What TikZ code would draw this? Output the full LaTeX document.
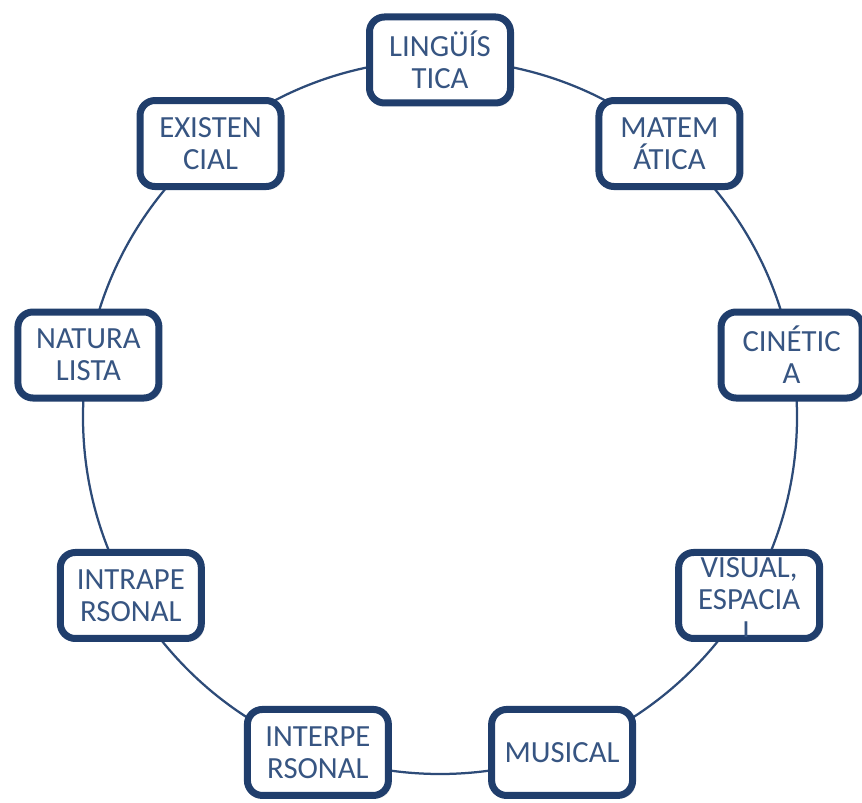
\documentclass[tikz,border=0pt]{standalone}
\usepackage{fontspec}
\setmainfont{Carlito}
\usetikzlibrary{shadows}
\definecolor{boxblue}{RGB}{32,62,108}
\definecolor{txtblue}{RGB}{55,85,130}
\definecolor{ringblue}{RGB}{45,75,120}

\begin{document}
\begin{tikzpicture}[
    intel/.style={draw=boxblue, line width=0.14cm, rounded corners=0.3cm, fill=white,
      minimum width=2.82cm, minimum height=1.72cm, inner sep=0pt,
      text=txtblue, align=center, font=\fontsize{17.5}{18.2}\selectfont,
      drop shadow={opacity=0.2, shadow xshift=0.06cm, shadow yshift=-0.06cm}},
    intxt/.style={text=txtblue, align=center, font=\fontsize{17.5}{18.2}\selectfont, inner sep=0pt}]
      \useasboundingbox (-8.8,-7.72) rectangle (8.44,8.34);
      \draw[ringblue, line width=0.045cm] (0,0) circle (7.14);

      \node[intel] (ling) at (90:7.14) {LINGÜÍS\\TICA};
      \node[intel] (mate) at (50:7.14) {MATEM\\ÁTICA};
      \node[intel] (cine) at (10:7.14) {CINÉTIC\\A};
      \node[intel] (visual) at (-30:7.14) {};
      \node[intel] (musi) at (-70:7.14) {MUSICAL};
      \node[intel] (inter) at (-110:7.14) {INTERPE\\RSONAL};
      \node[intel] (intra) at (-150:7.14) {INTRAPE\\RSONAL};
      \node[intel] (natu) at (170:7.14) {NATURA\\LISTA};
      \node[intel] (exis) at (130:7.14) {EXISTEN\\CIAL};

      % text runs past the box
      \begin{scope}
        \clip[rounded corners=0.2cm] ([shift={(0.1,0.1)}]visual.south west) rectangle ([shift={(-0.1,-0.1)}]visual.north east);
        \node[intxt, yshift=-0.08cm] (visualtxt) at (visual.center) {VISUAL,\\ESPACIA\\L};
      \end{scope}
    \end{tikzpicture}
\end{document}
